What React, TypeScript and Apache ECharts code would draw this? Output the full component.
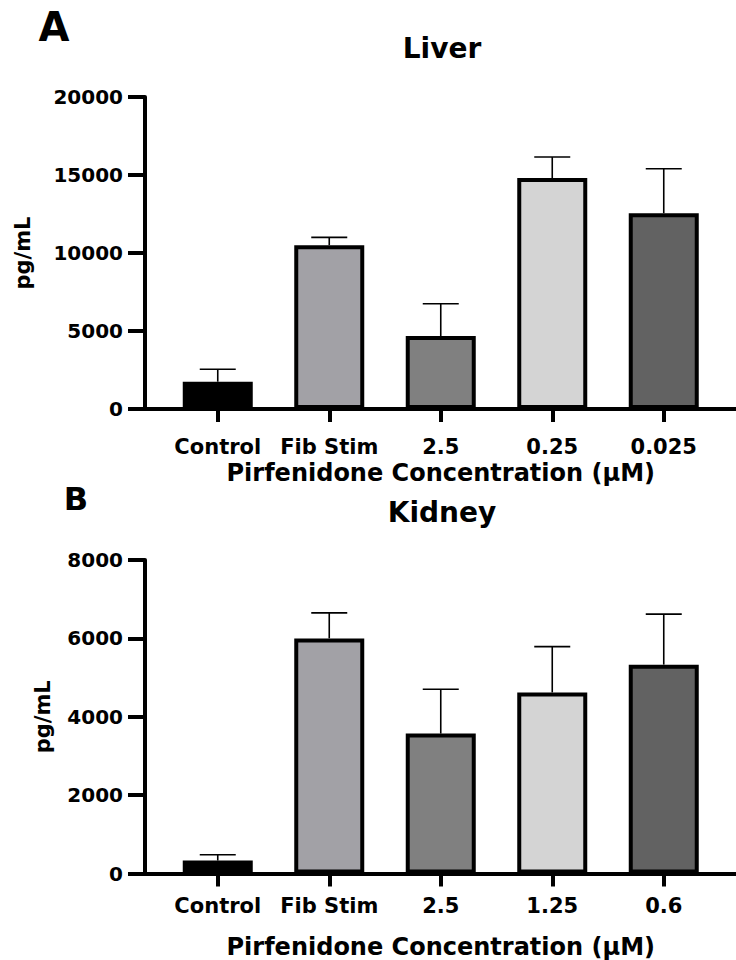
import React, { useEffect, useRef } from "react";
import * as echarts from "echarts";

const catsA = ["Control", "Fib Stim", "2.5", "0.25", "0.025"];
const meansA = [1750, 10500, 4680, 14800, 12550];
const upperA = [2550, 11000, 6750, 16150, 15400];

const catsB = ["Control", "Fib Stim", "2.5", "1.25", "0.6"];
const meansB = [330, 6000, 3570, 4620, 5330];
const upperB = [480, 6650, 4700, 5790, 6620];

const fills = ["#000000", "#a2a1a6", "#808080", "#d4d4d4", "#626262"];

const FONT = "DejaVu Sans";

function errorRender(params: any, api: any) {
  const base = api.coord([api.value(0), api.value(1)]);
  const top = api.coord([api.value(0), api.value(2)]);
  const style = { stroke: "#000", lineWidth: 1.6 };
  return {
    type: "group",
    children: [
      { type: "line", shape: { x1: base[0], y1: base[1], x2: top[0], y2: top[1] }, style },
      { type: "line", shape: { x1: top[0] - 18, y1: top[1], x2: top[0] + 18, y2: top[1] }, style },
    ],
  };
}

export default function App() {
  const ref = useRef<HTMLDivElement>(null);
  useEffect(() => {
    const chart = echarts.init(ref.current!, null, { renderer: "svg" });
    const axisLine = { show: true, lineStyle: { color: "#000", width: 4 } };
    const catAxis = (idx: number, cats: string[], margin: number, gap: number) => ({
      type: "category",
      gridIndex: idx,
      data: cats,
      axisLine,
      axisTick: { show: true, alignWithLabel: true, length: 13, lineStyle: { color: "#000", width: 4 } },
      axisLabel: {
        interval: 0,
        color: "#000",
        fontFamily: FONT,
        fontWeight: "bold",
        fontSize: 21,
        margin,
      },
      name: "Pirfenidone Concentration (µM)",
      nameLocation: "middle",
      nameGap: gap,
      nameTextStyle: { color: "#000", fontFamily: FONT, fontWeight: "bold", fontSize: 24 },
    });
    const valAxis = (idx: number, max: number, interval: number, gap: number) => ({
      type: "value",
      gridIndex: idx,
      min: 0,
      max,
      interval,
      offset: 17,
      axisLine,
      axisTick: { show: true, length: 17, lineStyle: { color: "#000", width: 4 } },
      axisLabel: {
        color: "#000",
        fontFamily: FONT,
        fontWeight: "bold",
        fontSize: 20,
        margin: 22,
        formatter: (v: number) => String(v),
      },
      splitLine: { show: false },
      name: "pg/mL",
      nameLocation: "middle",
      nameGap: gap,
      nameTextStyle: { color: "#000", fontFamily: FONT, fontWeight: "bold", fontSize: 21 },
    });
    const frameX = (idx: number) => ({
      type: "value",
      gridIndex: idx,
      axisLine,
      axisTick: { show: false },
      axisLabel: { show: false },
      splitLine: { show: false },
    });
    const frameY = (idx: number) => ({ type: "value", gridIndex: idx, show: false });
    const barSeries = (idx: number, means: number[]) => ({
      type: "bar",
      xAxisIndex: idx,
      yAxisIndex: idx,
      barWidth: 70,
      data: means.map((v, i) => ({
        value: v,
        itemStyle: { color: fills[i], borderColor: "#000", borderWidth: 4 },
      })),
      z: 3,
    });
    const errSeries = (idx: number, means: number[], upper: number[]) => ({
      type: "custom",
      xAxisIndex: idx,
      yAxisIndex: idx,
      renderItem: errorRender,
      data: means.map((v, i) => [i, v, upper[i]]),
      z: 2,
    });
    const titleText = (text: string, x: number, y: number, size: number) => ({
      type: "text",
      x,
      y,
      style: {
        text,
        fill: "#000",
        font: `bold ${size}px "${FONT}"`,
        textAlign: "center",
        textVerticalAlign: "middle",
      },
    });

    chart.setOption({
      animation: false,
      grid: [
        { left: 162, width: 557.5, top: 97, height: 312 },
        { left: 145, right: 0, top: 97, height: 312 },
        { left: 162, width: 557.5, top: 560, height: 313.5 },
        { left: 145, right: 0, top: 560, height: 313.5 },
      ],
      xAxis: [catAxis(0, catsA, 27, 52), frameX(1), catAxis(2, catsB, 22, 61), frameX(3)],
      yAxis: [valAxis(0, 20000, 5000, 112), frameY(1), valAxis(2, 8000, 2000, 92), frameY(3)],
      series: [
        errSeries(0, meansA, upperA),
        barSeries(0, meansA),
        errSeries(2, meansB, upperB),
        barSeries(2, meansB),
      ],
      graphic: [
        titleText("A", 54, 27, 40),
        titleText("B", 76, 499, 32),
        titleText("Liver", 442, 48, 28),
        titleText("Kidney", 442, 512, 28),
      ],
    });
    return () => chart.dispose();
  }, []);
  return (
    <div
      ref={ref}
      style={{ position: "fixed", left: 0, top: 0, width: 736, height: 960, background: "#fff" }}
    />
  );
}
